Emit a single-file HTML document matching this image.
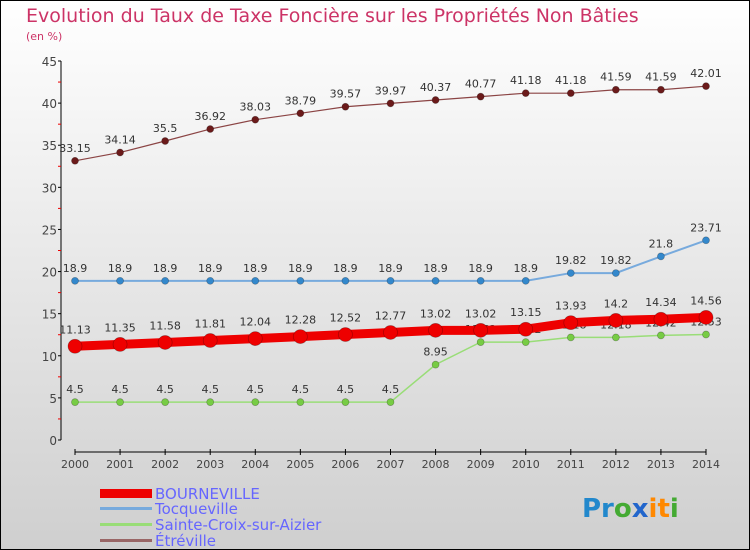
<!DOCTYPE html>
<html><head><meta charset="utf-8"><style>
body{margin:0}
#c{width:750px;height:550px;position:relative;overflow:hidden}
svg text{font-family:"DejaVu Sans","Liberation Sans",sans-serif}
</style></head><body>
<div id="c">
<svg id="s" width="750" height="550" xmlns="http://www.w3.org/2000/svg">
<defs><linearGradient id="bg" x1="0" y1="0" x2="0" y2="1"><stop offset="0" stop-color="#ffffff"/><stop offset="1" stop-color="#cfcfcf"/></linearGradient></defs>
<rect x="0.5" y="0.5" width="749" height="549" fill="url(#bg)" stroke="#000"/>
<text x="26" y="22" font-size="19" fill="#cc3366">Evolution du Taux de Taxe Foncière sur les Propriétés Non Bâties</text>
<text x="26" y="40" font-size="11" fill="#cc3366">(en %)</text>
<g id="axes"></g><g id="series"></g>
<g>
<rect x="100" y="489" width="52" height="9" fill="#ee0000"/>
<text x="155" y="499" font-size="15" fill="#6666ff">BOURNEVILLE</text>
<rect x="100" y="507" width="52" height="3" fill="#77aadd"/>
<text x="155" y="514" font-size="15" fill="#6666ff">Tocqueville</text>
<rect x="100" y="523" width="52" height="3" fill="#99dd77"/>
<text x="155" y="530" font-size="15" fill="#6666ff">Sainte-Croix-sur-Aizier</text>
<rect x="100" y="539" width="52" height="3" fill="#996666"/>
<text x="155" y="546" font-size="15" fill="#6666ff">Étréville</text>
</g>
<text x="582" y="517" font-size="26" font-weight="bold"><tspan fill="#2288cc">Pr</tspan><tspan fill="#44aa33">o</tspan><tspan fill="#2266cc">x</tspan><tspan fill="#ff8800">i</tspan><tspan fill="#ff8800">t</tspan><tspan fill="#44aa33">i</tspan></text>
</svg></div>
<script>
const years=[2000,2001,2002,2003,2004,2005,2006,2007,2008,2009,2010,2011,2012,2013,2014];
const bourneville=[11.13,11.35,11.58,11.81,12.04,12.28,12.52,12.77,13.02,13.02,13.15,13.93,14.2,14.34,14.56];
const tocqueville=[18.9,18.9,18.9,18.9,18.9,18.9,18.9,18.9,18.9,18.9,18.9,19.82,19.82,21.8,23.71];
const sainteCroix=[4.5,4.5,4.5,4.5,4.5,4.5,4.5,4.5,8.95,11.62,11.62,12.18,12.18,12.42,12.53];
const etreville=[33.15,34.14,35.5,36.92,38.03,38.79,39.57,39.97,40.37,40.77,41.18,41.18,41.59,41.59,42.01];
const yTicks=[0,5,10,15,20,25,30,35,40,45];
const NS="http://www.w3.org/2000/svg";
const xS=i=>75+i*(706-75)/(years.length-1);
const yS=v=>440-v*(379/45);
function mk(p,t,a){const e=document.createElementNS(NS,t);for(const k in a)e.setAttribute(k,a[k]);p.appendChild(e);return e;}
const ax=document.getElementById('axes');
const yl=mk(ax,'line',{x1:61,y1:yS(45),x2:61,y2:440,stroke:'#000'});

yTicks.forEach(v=>{mk(ax,'line',{x1:58,x2:61,y1:yS(v),y2:yS(v),stroke:'#000'});
 if(v<45)mk(ax,'line',{x1:58,x2:61,y1:yS(v+2.5),y2:yS(v+2.5),stroke:'#e00'});
 const t=mk(ax,'text',{x:57,y:yS(v)+5,'font-size':12,fill:'#444','text-anchor':'end'});t.textContent=v;
 });
const xl=mk(ax,'line',{x1:75,x2:706,y1:452,y2:452,stroke:'#000'});

years.forEach((y,i)=>{mk(ax,'line',{x1:xS(i),x2:xS(i),y1:449,y2:455,stroke:'#000'});
 const t=mk(ax,'text',{x:xS(i),y:468,'font-size':11,fill:'#444','text-anchor':'middle'});t.textContent=y;
 });
const sg=document.getElementById('series');
function draw(name,data,col,w,r,dot,dy){
 const g=mk(sg,'g',{});
 mk(g,'polyline',{points:data.map((v,i)=>xS(i)+','+yS(v)).join(' '),fill:'none',stroke:col,'stroke-width':w});
 data.forEach((v,i)=>{const c=mk(g,'circle',{cx:xS(i),cy:yS(v),r:r,fill:dot,stroke:'rgba(0,0,0,0.3)','stroke-width':0.7});
  
  const t=mk(g,'text',{x:xS(i),y:yS(v)-dy,'font-size':11,fill:'#333','text-anchor':'middle'});t.textContent=v;
  });
}
draw('etreville',etreville,'#8b4444',1.2,3.5,'#6b1a1a',9);
draw('tocqueville',tocqueville,'#77aadd',2,3.5,'#3388cc',9);
draw('sainte-croix',sainteCroix,'#99dd77',1.5,3.5,'#77cc44',9);
draw('bourneville',bourneville,'#ee0000',9,7,'#ee0000',13);
</script>
</body></html>
